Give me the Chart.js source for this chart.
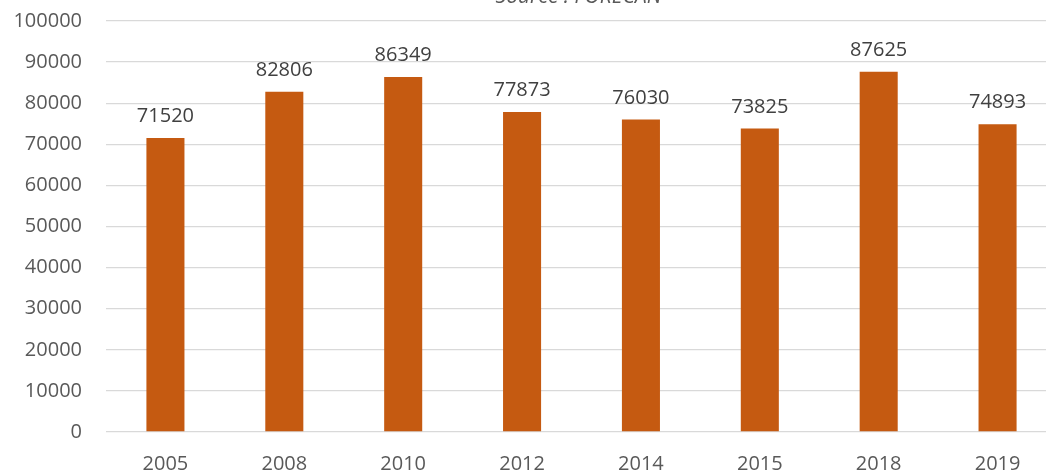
<!DOCTYPE html>
<html>
<head>
<meta charset="utf-8">
<script src="https://cdn.jsdelivr.net/npm/chart.js@4"></script>
<style>
  html, body { margin: 0; padding: 0; background: #fff; overflow: hidden; }
  #wrap { position: absolute; left: 0; top: 0; width: 1058px; height: 480px; }
</style>
</head>
<body>
<div id="wrap"><canvas id="chart"></canvas></div>
<script>
const years = ["2005", "2008", "2010", "2012", "2014", "2015", "2018", "2019"];
const values = [71520, 82806, 86349, 77873, 76030, 73825, 87625, 74893];
const sourceText = "Source : FORECAN";

const FONT = "'Open Sans', 'Liberation Sans', sans-serif";

// valeurs au-dessus des barres + titre (coupé en haut)
const extras = {
  id: "extras",
  afterDatasetsDraw(chart) {
    const ctx = chart.ctx;
    const meta = chart.getDatasetMeta(0);
    ctx.save();
    ctx.font = "20px " + FONT;
    ctx.fillStyle = "#404040";
    ctx.textAlign = "center";
    ctx.textBaseline = "alphabetic";
    meta.data.forEach((bar, i) => {
      ctx.fillText(String(values[i]), bar.x, bar.y - 16);
    });
    const area = chart.chartArea;
    ctx.font = "italic 21px " + FONT;
    ctx.fillStyle = "#595959";
    ctx.fillText(sourceText, (area.left + area.right) / 2 - 3, 3);
    ctx.restore();
  },
};

new Chart(document.getElementById("chart").getContext("2d"), {
  type: "bar",
  data: {
    labels: years,
    datasets: [{
      data: values,
      backgroundColor: "#C55A11",
      borderWidth: 0,
      categoryPercentage: 1,
      barPercentage: 0.32,
    }],
  },
  options: {
    responsive: true,
    maintainAspectRatio: false,
    animation: false,
    layout: { padding: { top: 21, right: 1, bottom: 0, left: 0 } },
    plugins: { legend: { display: false }, tooltip: { enabled: false } },
    scales: {
      x: {
        grid: { display: false },
        border: { display: false },
        ticks: { color: "#595959", font: { family: FONT, size: 20 }, padding: 12 },
        afterFit(scale) { scale.height = 48; },
      },
      y: {
        min: 0,
        max: 100000,
        grid: { color: "#D9D9D9", lineWidth: 1.3, drawTicks: false },
        border: { display: false },
        ticks: {
          stepSize: 10000,
          color: "#595959",
          font: { family: FONT, size: 20 },
          padding: 24,
          callback: (v) => String(v),
        },
        afterFit(scale) {
          scale.width = 106;
          scale.paddingTop = 0;
          scale.paddingBottom = 0;
        },
      },
    },
  },
  plugins: [extras],
});
</script>
</body>
</html>
